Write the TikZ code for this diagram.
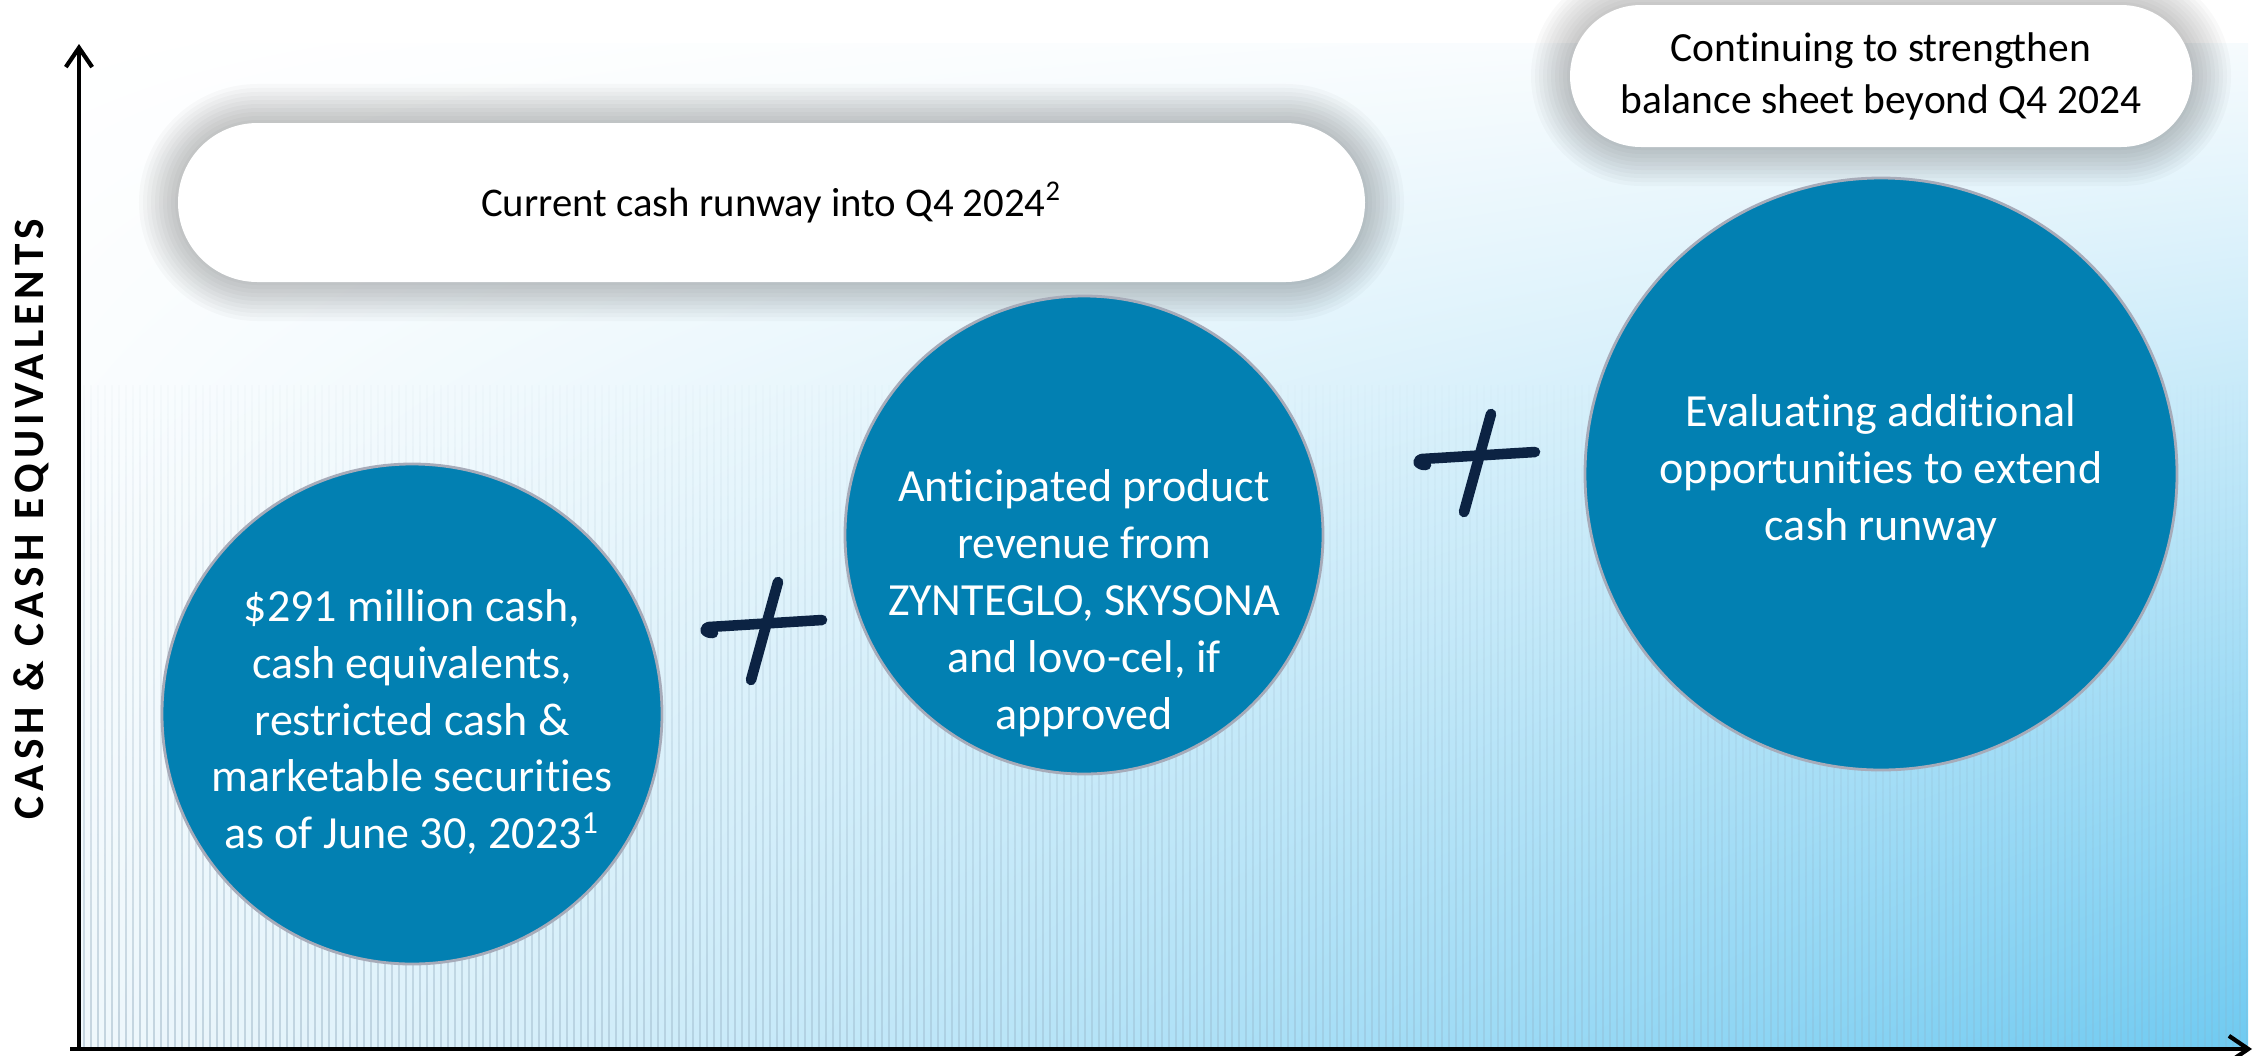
\documentclass[tikz,border=0pt]{standalone}
\usepackage{fontspec}
\setmainfont[Ligatures=NoCommon]{Carlito}
\usetikzlibrary{arrows.meta,patterns.meta,fadings,shadings,shapes.misc}

\definecolor{runblue}{HTML}{0280B2}
\definecolor{ringgray}{HTML}{A7ABB9}
\definecolor{inkblue}{HTML}{0C2343}
\definecolor{skyblue}{HTML}{6FCAF1}
\definecolor{paleblue}{HTML}{F0F8FC}
\definecolor{stripegray}{HTML}{8FA9BC}

% stripes show most at the lower left and vanish towards the top
\begin{tikzfadingfrompicture}[name=stripefade]
  \shade[upper left=transparent!100, upper right=transparent!100,
         lower left=transparent!50, lower right=transparent!85] (0,0) rectangle (2,2);
\end{tikzfadingfrompicture}

\tikzset{
  axis/.style={line width=1.2pt, -{Straight Barb[length=5.5pt,width=7.5pt]}},
  bubble/.style={circle, fill=runblue, draw=ringgray, line width=0.8pt, inner sep=0pt},
  bubbletext/.style={text=white, align=center, font=\fontsize{13.1}{16.2}\selectfont},
  pill/.style={rounded rectangle, fill=white, inner sep=0pt},
  ink/.style={draw=inkblue, line width=3pt, line cap=round, line join=round}
}

\begin{document}
\begin{tikzpicture}
  \useasboundingbox (0,0) rectangle (22.54,10.55);

  % backdrop: light gradient with fine vertical stripes
  \shade[upper left=white, upper right=paleblue!60!white, lower left=paleblue, lower right=skyblue]
    (0.79,0.06) rectangle (22.48,10.12);
  \fill[pattern={Lines[angle=90,distance=0.07cm,line width=0.6pt]}, pattern color=stripegray,
    path fading=stripefade] (0.80,0.07) rectangle (22.48,6.7);

  % axes
  \coordinate (origin) at (0.79,0.06);
  \coordinate (ytop) at (0.79,10.11);
  \coordinate (xend) at (22.52,0.06);
  \draw[axis] ([xshift=-0.09cm]origin) -- (xend);
  \draw[axis] (origin) -- (ytop);
  \node[rotate=90, font=\bfseries\fontsize{12.3}{14}\selectfont\addfontfeatures{LetterSpace=12}]
    (ylabel) at (0.31,5.36) {CASH \& CASH EQUIVALENTS};

  % soft shadows under the two pills
  \foreach \d [evaluate=\d as \r using 0.795+\d] in {0.03,0.07,...,0.43}
    \fill[black, opacity=0.024, rounded corners=\r cm] (1.78-\d,7.73-\d) rectangle (13.65+\d,9.32+\d);
  \foreach \d [evaluate=\d as \r using 0.71+\d] in {0.03,0.07,...,0.43}
    \fill[black, opacity=0.024, rounded corners=\r cm] (15.70-\d,9.08-\d) rectangle (21.92+\d,10.50+\d);

  \node[pill, minimum width=11.87cm, minimum height=1.59cm, font=\fontsize{11.6}{14}\selectfont]
    (runway) at (7.715,8.525) {Current cash runway into Q4 2024\textsuperscript{2}};
  \node[pill, minimum width=6.22cm, minimum height=1.42cm, align=center, font=\fontsize{11.8}{14.8}\selectfont]
    (beyond) at (18.81,9.79) {Continuing to strengthen\\balance sheet beyond Q4 2024};

  % the three bubbles
  \node[bubble, minimum size=5.0cm] (cashnow) at (4.12,3.41) {};
  \node[bubble, minimum size=4.78cm] (revenue) at (10.84,5.20) {};
  \node[bubble, minimum size=5.92cm] (extend) at (18.81,5.81) {};

  \node[bubbletext] (cashnowtxt) at ([yshift=-0.08cm]cashnow.center)
    {\$291 million cash,\\cash equivalents,\\restricted cash \&\\marketable securities\\as of June 30, 2023\textsuperscript{1}};
  \node[bubbletext] (revenuetxt) at ([yshift=-0.68cm]revenue.center)
    {Anticipated product\\revenue from\\ZYNTEGLO, SKYSONA\\and lovo-cel, if\\approved};
  \node[bubbletext] (extendtxt) at ([yshift=0.03cm]extend.center)
    {Evaluating additional\\opportunities to extend\\cash runway};

  % hand drawn plus signs between the bubbles
  \coordinate (plusa) at (7.65,4.30);
  \coordinate (plusb) at (14.78,5.98);
  \foreach \p in {plusa,plusb} {
    \begin{scope}[shift={(\p)}]
      \draw[ink] (-0.52,-0.08) .. controls (-0.60,-0.08) and (-0.62,-0.04) .. (-0.56,-0.02) -- (0.57,0.05);
      \draw[ink] (0.13,0.43) -- (-0.14,-0.55);
    \end{scope}
  }
\end{tikzpicture}
\end{document}
